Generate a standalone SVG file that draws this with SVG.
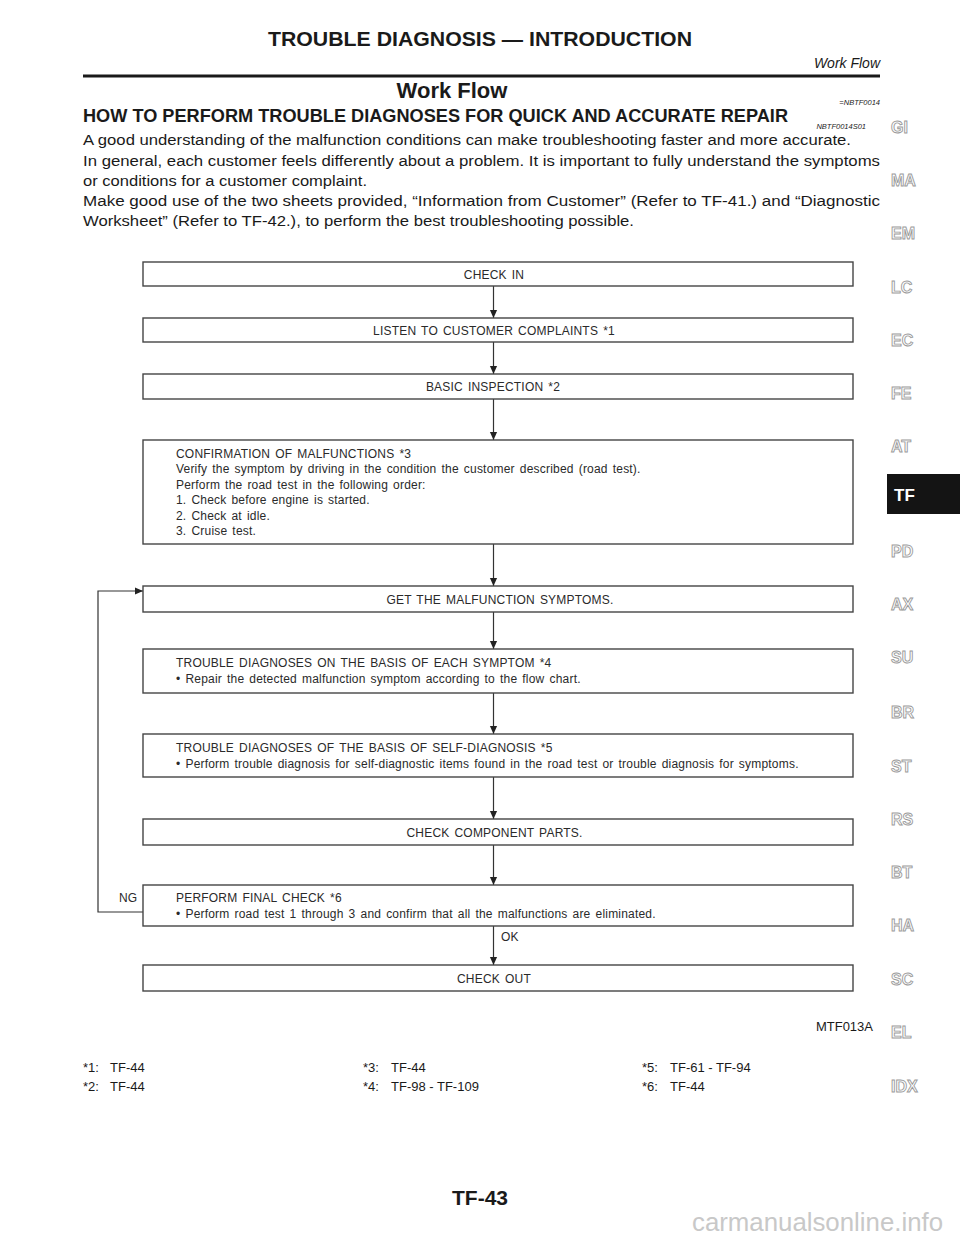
<svg xmlns="http://www.w3.org/2000/svg" width="960" height="1242" viewBox="0 0 960 1242">
<style>
.hdr{font-family:"Liberation Sans",Arial,sans-serif;fill:#1a1a1a}
.b{font-weight:bold}
.it{font-style:italic}
.body{font-family:"Liberation Sans",Arial,sans-serif;font-size:15.5px;fill:#1a1a1a}
.box{fill:#fff;stroke:#454545;stroke-width:1.4}
.bt{font-family:"Liberation Sans",Arial,sans-serif;font-size:12px;letter-spacing:0.2px;word-spacing:1.5px;fill:#2a2a2a}
.c{text-anchor:middle}
.conn{fill:none;stroke:#333;stroke-width:1.2}
.side{font-family:"Liberation Sans",Arial,sans-serif;font-weight:bold;font-size:16px;fill:#fff;stroke:#9a9a9a;stroke-width:0.9}
.fn{font-family:"Liberation Sans",Arial,sans-serif;font-size:13px;fill:#1a1a1a}
</style>
<defs>
<marker id="ah" markerUnits="userSpaceOnUse" markerWidth="9" markerHeight="9" refX="8" refY="4" orient="auto">
<path d="M0,0.4 L8,4 L0,7.6 z" fill="#222"/>
</marker>
</defs>
<rect width="960" height="1242" fill="#fff"/>

<g id="page-header">
<text class="hdr b" x="480" y="46" font-size="21" text-anchor="middle" textLength="424" lengthAdjust="spacingAndGlyphs">TROUBLE DIAGNOSIS — INTRODUCTION</text>
<text class="hdr it" x="880" y="68" font-size="14" text-anchor="end">Work Flow</text>
<rect x="83" y="74.5" width="797" height="3" fill="#1a1a1a"/>
<text class="hdr b" x="452" y="98" font-size="22" text-anchor="middle">Work Flow</text>
<text class="hdr it" x="880" y="105" font-size="7.5" text-anchor="end">=NBTF0014</text>
<text class="hdr b" x="83" y="122" font-size="18" textLength="705" lengthAdjust="spacingAndGlyphs">HOW TO PERFORM TROUBLE DIAGNOSES FOR QUICK AND ACCURATE REPAIR</text>
<text class="hdr it" x="866" y="129" font-size="7.5" text-anchor="end">NBTF0014S01</text>
</g>

<g id="intro-text">
<text class="body" x="83" y="145" textLength="768" lengthAdjust="spacingAndGlyphs">A good understanding of the malfunction conditions can make troubleshooting faster and more accurate.</text>
<text class="body" x="83" y="165.5" textLength="797" lengthAdjust="spacingAndGlyphs">In general, each customer feels differently about a problem. It is important to fully understand the symptoms</text>
<text class="body" x="83" y="186" textLength="284" lengthAdjust="spacingAndGlyphs">or conditions for a customer complaint.</text>
<text class="body" x="83" y="206" textLength="797" lengthAdjust="spacingAndGlyphs">Make good use of the two sheets provided, “Information from Customer” (Refer to TF-41.) and “Diagnostic</text>
<text class="body" x="83" y="226" textLength="551" lengthAdjust="spacingAndGlyphs">Worksheet” (Refer to TF-42.), to perform the best troubleshooting possible.</text>
</g>

<g id="sidebar">
<text class="side" x="891" y="133">GI</text>
<text class="side" x="891" y="186">MA</text>
<text class="side" x="891" y="239">EM</text>
<text class="side" x="891" y="293">LC</text>
<text class="side" x="891" y="346">EC</text>
<text class="side" x="891" y="399">FE</text>
<text class="side" x="891" y="452">AT</text>
<rect x="887" y="474" width="73" height="40" fill="#141414"/>
<text x="894" y="500.5" font-family="Liberation Sans, Arial, sans-serif" font-weight="bold" font-size="17" fill="#fff">TF</text>
<text class="side" x="891" y="557">PD</text>
<text class="side" x="891" y="610">AX</text>
<text class="side" x="891" y="663">SU</text>
<text class="side" x="891" y="718">BR</text>
<text class="side" x="891" y="772">ST</text>
<text class="side" x="891" y="825">RS</text>
<text class="side" x="891" y="878">BT</text>
<text class="side" x="891" y="931">HA</text>
<text class="side" x="891" y="985">SC</text>
<text class="side" x="891" y="1038">EL</text>
<text class="side" x="891" y="1092">IDX</text>
</g>

<g id="connectors">
<line class="conn" x1="493.5" y1="286" x2="493.5" y2="318" marker-end="url(#ah)"/>
<line class="conn" x1="493.5" y1="342" x2="493.5" y2="374" marker-end="url(#ah)"/>
<line class="conn" x1="493.5" y1="399" x2="493.5" y2="440" marker-end="url(#ah)"/>
<line class="conn" x1="493.5" y1="544" x2="493.5" y2="586" marker-end="url(#ah)"/>
<line class="conn" x1="493.5" y1="612" x2="493.5" y2="649" marker-end="url(#ah)"/>
<line class="conn" x1="493.5" y1="693" x2="493.5" y2="734" marker-end="url(#ah)"/>
<line class="conn" x1="493.5" y1="777" x2="493.5" y2="819" marker-end="url(#ah)"/>
<line class="conn" x1="493.5" y1="845" x2="493.5" y2="885" marker-end="url(#ah)"/>
<line class="conn" x1="493.5" y1="926" x2="493.5" y2="965" marker-end="url(#ah)"/>
<path class="conn" d="M143,912 H98 V591 H143" stroke="#555" marker-end="url(#ah)"/>
<text class="bt" x="119" y="902">NG</text>
<text class="bt" x="501" y="941">OK</text>
</g>

<g id="check-in">
<rect class="box" x="143" y="262" width="710" height="24"/>
<text class="bt c" x="494" y="278.5">CHECK IN</text>
</g>
<g id="listen">
<rect class="box" x="143" y="318" width="710" height="24"/>
<text class="bt c" x="494" y="334.5">LISTEN TO CUSTOMER COMPLAINTS *1</text>
</g>
<g id="basic-inspection">
<rect class="box" x="143" y="374" width="710" height="25"/>
<text class="bt c" x="493" y="391">BASIC INSPECTION *2</text>
</g>
<g id="confirmation">
<rect class="box" x="143" y="440" width="710" height="104"/>
<text class="bt" x="176" y="457.5">CONFIRMATION OF MALFUNCTIONS *3</text>
<text class="bt" x="176" y="473">Verify the symptom by driving in the condition the customer described (road test).</text>
<text class="bt" x="176" y="488.5">Perform the road test in the following order:</text>
<text class="bt" x="176" y="504">1. Check before engine is started.</text>
<text class="bt" x="176" y="519.5">2. Check at idle.</text>
<text class="bt" x="176" y="535">3. Cruise test.</text>
</g>
<g id="get-symptoms">
<rect class="box" x="143" y="586" width="710" height="26"/>
<text class="bt c" x="500" y="603.5">GET THE MALFUNCTION SYMPTOMS.</text>
</g>
<g id="diag-each-symptom">
<rect class="box" x="143" y="649" width="710" height="44"/>
<text class="bt" x="176" y="667">TROUBLE DIAGNOSES ON THE BASIS OF EACH SYMPTOM *4</text>
<text class="bt" x="176" y="682.5">• Repair the detected malfunction symptom according to the flow chart.</text>
</g>
<g id="diag-self">
<rect class="box" x="143" y="734" width="710" height="43"/>
<text class="bt" x="176" y="752">TROUBLE DIAGNOSES OF THE BASIS OF SELF-DIAGNOSIS *5</text>
<text class="bt" x="176" y="767.5">• Perform trouble diagnosis for self-diagnostic items found in the road test or trouble diagnosis for symptoms.</text>
</g>
<g id="check-components">
<rect class="box" x="143" y="819" width="710" height="26"/>
<text class="bt c" x="494.5" y="836.5">CHECK COMPONENT PARTS.</text>
</g>
<g id="final-check">
<rect class="box" x="143" y="885" width="710" height="41"/>
<text class="bt" x="176" y="902">PERFORM FINAL CHECK *6</text>
<text class="bt" x="176" y="917.5">• Perform road test 1 through 3 and confirm that all the malfunctions are eliminated.</text>
</g>
<g id="check-out">
<rect class="box" x="143" y="965" width="710" height="26"/>
<text class="bt c" x="494" y="982.5">CHECK OUT</text>
</g>

<g id="footnotes">
<text class="fn" x="873" y="1031" font-size="10.5" text-anchor="end">MTF013A</text>
<text class="fn" x="83" y="1072">*1:</text><text class="fn" x="110" y="1072">TF-44</text>
<text class="fn" x="83" y="1091">*2:</text><text class="fn" x="110" y="1091">TF-44</text>
<text class="fn" x="363" y="1072">*3:</text><text class="fn" x="391" y="1072">TF-44</text>
<text class="fn" x="363" y="1091">*4:</text><text class="fn" x="391" y="1091">TF-98 - TF-109</text>
<text class="fn" x="642" y="1072">*5:</text><text class="fn" x="670" y="1072">TF-61 - TF-94</text>
<text class="fn" x="642" y="1091">*6:</text><text class="fn" x="670" y="1091">TF-44</text>
</g>

<g id="page-footer">
<text class="hdr b" x="480" y="1205" font-size="21" text-anchor="middle">TF-43</text>
<text x="943" y="1231" font-family="Liberation Sans, Arial, sans-serif" font-size="25" fill="#c8c8c8" text-anchor="end" textLength="251" lengthAdjust="spacingAndGlyphs">carmanualsonline.info</text>
</g>
</svg>
